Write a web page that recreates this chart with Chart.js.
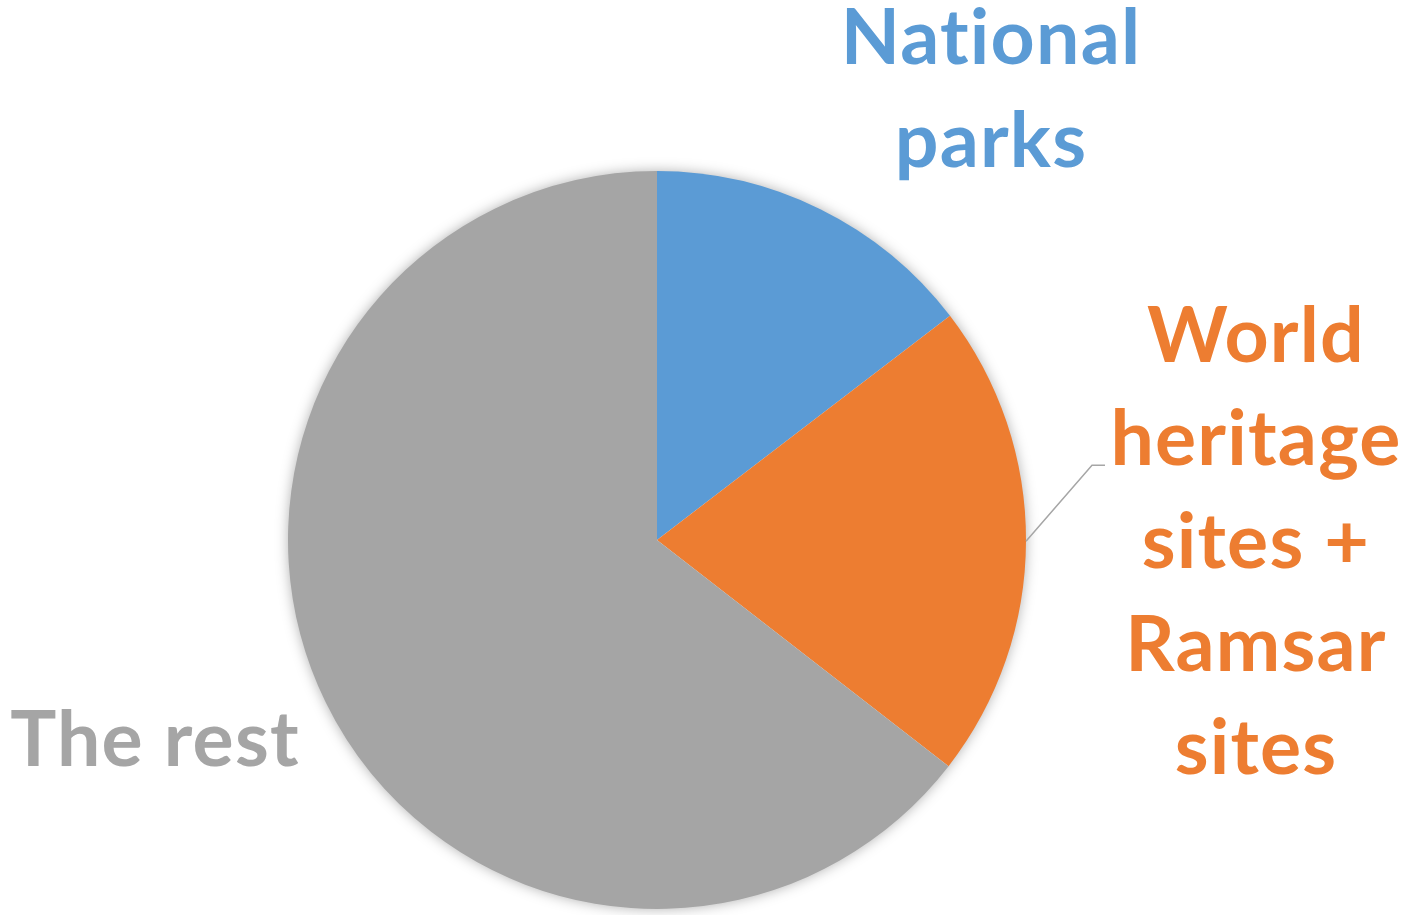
<!DOCTYPE html>
<html>
<head>
<meta charset="utf-8">
<script src="https://cdn.jsdelivr.net/npm/chart.js@4/dist/chart.umd.min.js"></script>
<style>
  html, body { margin: 0; padding: 0; background: #ffffff; }
  #wrap { width: 1408px; height: 915px; position: relative; }
</style>
</head>
<body>
<div id="wrap"><canvas id="c" width="1408" height="915"></canvas></div>
<script>
const categories = ["National parks", "World heritage sites + Ramsar sites", "The rest"];
const shares = [14.6, 20.9, 64.5];
const colors = ["#5B9BD5", "#ED7D31", "#A5A5A5"];
const labelLines = [["National", "parks"], ["World", "heritage", "sites +", "Ramsar", "sites"], ["The rest"]];

const shadowPlugin = {
  id: 'pieShadow',
  beforeDatasetsDraw(chart) {
    const arc = chart.getDatasetMeta(0).data[0];
    if (!arc) return;
    const ctx = chart.ctx;
    ctx.save();
    ctx.shadowColor = 'rgba(0,0,0,0.35)';
    ctx.shadowBlur = 14;
    ctx.shadowOffsetX = 0;
    ctx.shadowOffsetY = 0;
    ctx.fillStyle = '#ffffff';
    ctx.beginPath();
    ctx.arc(arc.x, arc.y, arc.outerRadius - 1, 0, Math.PI * 2);
    ctx.fill();
    ctx.restore();
  }
};

const labelPlugin = {
  id: 'outsideLabels',
  afterDatasetsDraw(chart) {
    const meta = chart.getDatasetMeta(0);
    const ctx = chart.ctx;
    const cx = meta.data[0].x, cy = meta.data[0].y, r = meta.data[0].outerRadius;
    ctx.save();
    ctx.font = 'bold 77px Lato';
    if ('letterSpacing' in ctx) ctx.letterSpacing = '1.2px';
    ctx.textAlign = 'center';
    ctx.textBaseline = 'alphabetic';
    const lh = 103;
    ctx.fillStyle = colors[0];
    labelLines[0].forEach((t, i) => ctx.fillText(t, cx + 334, 64 + i * lh));
    ctx.fillStyle = colors[1];
    labelLines[1].forEach((t, i) => ctx.fillText(t, cx + 599, 362 + i * lh));
    ctx.fillStyle = colors[2];
    labelLines[2].forEach((t, i) => ctx.fillText(t, cx - 502, 766 + i * lh));
    // leader line for orange slice
    const a1 = meta.data[1];
    const mid = (a1.startAngle + a1.endAngle) / 2;
    const sx = cx + Math.cos(mid) * r, sy = cy + Math.sin(mid) * r;
    ctx.strokeStyle = '#A6A6A6';
    ctx.lineWidth = 1.5;
    ctx.beginPath();
    ctx.moveTo(sx, sy);
    ctx.lineTo(sx + 66, sy - 76);
    ctx.lineTo(sx + 79, sy - 76);
    ctx.stroke();
    ctx.restore();
  }
};

new Chart(document.getElementById('c'), {
  type: 'pie',
  data: {
    labels: categories,
    datasets: [{ data: shares, backgroundColor: colors, borderWidth: 0 }]
  },
  options: {
    responsive: false,
    animation: false,
    layout: { padding: { left: 288, right: 382, top: 171, bottom: 6 } },
    plugins: { legend: { display: false }, tooltip: { enabled: false } }
  },
  plugins: [shadowPlugin, labelPlugin]
});
</script>
</body>
</html>
